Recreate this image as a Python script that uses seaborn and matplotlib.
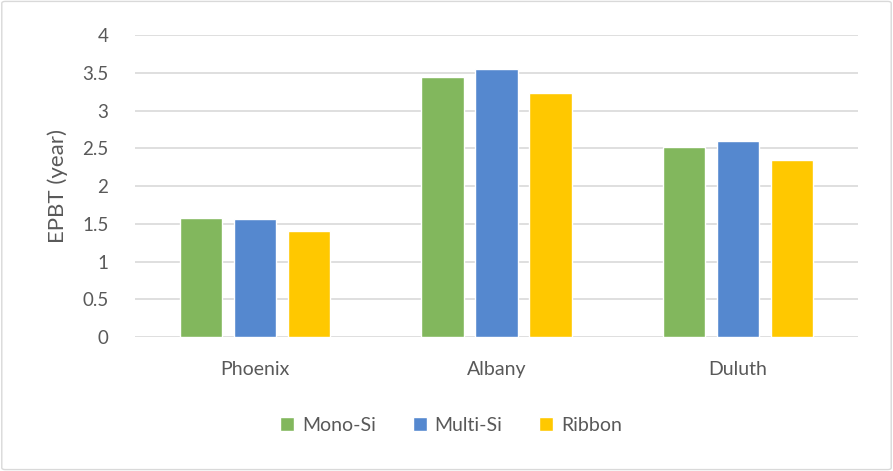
import matplotlib
matplotlib.use("Agg")
import matplotlib.pyplot as plt
from matplotlib.patches import FancyBboxPatch
import pandas as pd
import seaborn as sns

cities = ["Phoenix", "Albany", "Duluth"]
technologies = ["Mono-Si", "Multi-Si", "Ribbon"]
mono_si = [1.58, 3.44, 2.52]
multi_si = [1.57, 3.55, 2.60]
ribbon = [1.40, 3.23, 2.35]
y_ticks = [0, 0.5, 1, 1.5, 2, 2.5, 3, 3.5, 4]
y_tick_labels = ["0", "0.5", "1", "1.5", "2", "2.5", "3", "3.5", "4"]

df = pd.DataFrame({
    "city": cities * 3,
    "tech": [t for t in technologies for _ in cities],
    "epbt": mono_si + multi_si + ribbon,
})

palette = {"Mono-Si": "#82B75D", "Multi-Si": "#5588CF", "Ribbon": "#FFC800"}
text_color = "#595959"

sns.set_theme(style="white")
plt.rcParams["font.family"] = ["Lato", "DejaVu Sans"]

fig = plt.figure(figsize=(8.93, 4.71), dpi=100)
ax = fig.add_axes([0.151, 0.2845, 0.81, 0.641])

sns.barplot(data=df, x="city", y="epbt", hue="tech", order=cities,
            hue_order=technologies, palette=palette, width=0.672, gap=0.22,
            saturation=1, ax=ax, legend=True)

ax.set_ylim(0, 4)
ax.set_xlim(-0.5, 2.5)
ax.set_yticks(y_ticks)
ax.set_yticklabels(y_tick_labels)
ax.yaxis.grid(True, color="#D9D9D9", linewidth=1.2)
ax.set_axisbelow(True)
for s in ax.spines.values():
    s.set_visible(False)
ax.tick_params(axis="y", length=0, colors=text_color, labelsize=13.5, pad=19)
ax.tick_params(axis="x", length=0, colors=text_color, labelsize=14, pad=17)
ax.set_xlabel("")
ax.set_ylabel("EPBT (year)", fontsize=16, color=text_color)
ax.yaxis.set_label_coords(-0.092, 0.5)

handles, labels = ax.get_legend_handles_labels()
ax.legend(handles, labels, loc="center", bbox_to_anchor=(0.505, 0.097),
          bbox_transform=fig.transFigure, ncol=3, frameon=False,
          fontsize=14, labelcolor=text_color, handlelength=0.72,
          handleheight=0.72, handletextpad=0.4, columnspacing=1.9)

frame = FancyBboxPatch((0.002, 0.003), 0.996, 0.994, boxstyle="round,pad=0,rounding_size=0.004",
                       transform=fig.transFigure, fill=False, edgecolor="#D9D9D9",
                       linewidth=1.0)
fig.patches.append(frame)

fig.savefig("out.png", dpi=100)
